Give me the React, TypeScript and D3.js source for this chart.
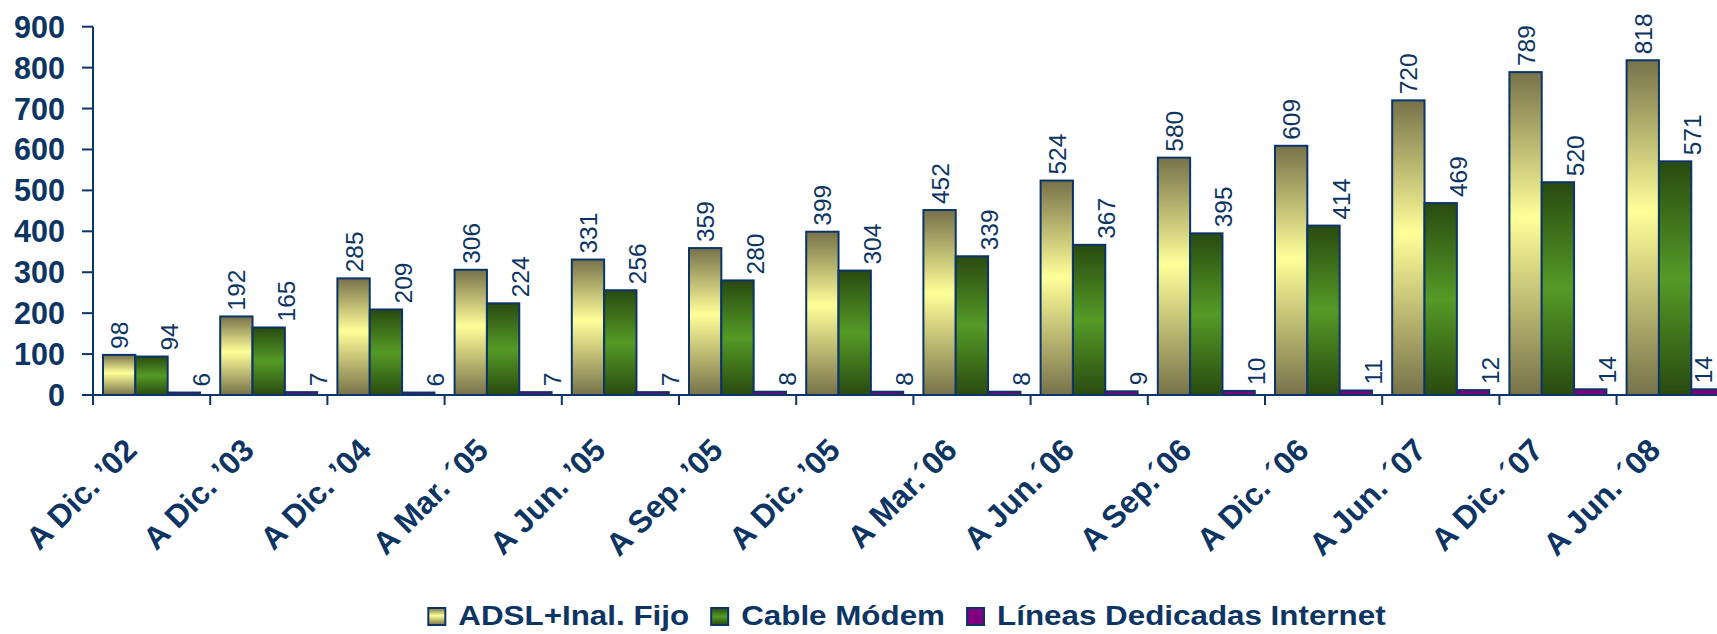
import React from 'react';
import * as d3 from 'd3';

const categories = [
  "A Dic. ’02", "A Dic. ’03", "A Dic. ’04", "A Mar. ´05", "A Jun. ’05", "A Sep. ’05", "A Dic. ’05",
  "A Mar.´06", "A Jun.´06", "A Sep.´06", "A Dic. ´06", "A Jun. ´07", "A Dic. ´07", "A Jun. ´08",
];
const adsl = [98, 192, 285, 306, 331, 359, 399, 452, 524, 580, 609, 720, 789, 818];
const cable = [94, 165, 209, 224, 256, 280, 304, 339, 367, 395, 414, 469, 520, 571];
const dedicadas = [6, 7, 6, 7, 7, 8, 8, 8, 9, 10, 11, 12, 14, 14];
const seriesNames = ["ADSL+Inal. Fijo", "Cable Módem", "Líneas Dedicadas Internet"];
const yTicks = [0, 100, 200, 300, 400, 500, 600, 700, 800, 900];

const W = 1717;
const H = 634;
const NAVY = '#0b3468';
const TEXT = '#0d3563';
const FONT = '"Liberation Sans", Arial, sans-serif';

const seriesData = [adsl, cable, dedicadas];
const fills = ['url(#gAdsl)', 'url(#gCable)', '#800080'];
const labelDx = [9, 26, 26];

function measure(text: string, font: string): number {
  if (typeof document === 'undefined') return text.length * 15;
  const c = document.createElement('canvas');
  const ctx = c.getContext('2d');
  if (!ctx) return text.length * 15;
  ctx.font = font;
  return ctx.measureText(text).width;
}

export default function App() {
  const x0Start = 93;
  const step = 117.2;
  const y = d3.scaleLinear().domain([0, 900]).range([395, 26.7]);
  const x0 = d3.scaleBand<string>().domain(categories).range([x0Start, x0Start + step * categories.length]).padding(0);
  const x1 = d3.scaleBand<string>().domain(seriesNames).range([10, 107]).padding(0);
  const bw = x1.bandwidth();

  // legend layout
  const legFont = `bold 28px ${FONT}`;
  const sx = 1.12;
  const sq = 17;
  const gapSq = 13;
  const gapItem = 22;
  const widths = seriesNames.map((s) => measure(s, legFont) * sx);
  const total = widths.reduce((a, w) => a + sq + gapSq + w, 0) + gapItem * (seriesNames.length - 1);
  let lx = 907 - total / 2;
  const legendItems = seriesNames.map((s, i) => {
    const item = { name: s, x: lx, i };
    lx += sq + gapSq + widths[i] + gapItem;
    return item;
  });

  return (
    <svg width={W} height={H} style={{ position: 'absolute', left: 0, top: 0, background: '#fff' }}>
      <defs>
        <linearGradient id="gAdsl" x1="0" y1="0" x2="0" y2="1">
          <stop offset="0" stopColor="#77724a" />
          <stop offset="0.45" stopColor="#ffff99" />
          <stop offset="1" stopColor="#77724a" />
        </linearGradient>
        <linearGradient id="gCable" x1="0" y1="0" x2="0" y2="1">
          <stop offset="0" stopColor="#294a10" />
          <stop offset="0.5" stopColor="#559a26" />
          <stop offset="1" stopColor="#294a10" />
        </linearGradient>
      </defs>

      {/* bars */}
      {categories.map((c, ci) => (
        <g key={c} transform={`translate(${x0(c)},0)`}>
          {seriesNames.map((s, si) => {
            const v = seriesData[si][ci];
            const bx = x1(s) as number;
            return (
              <rect key={s} x={bx} y={y(v)} width={bw} height={y(0) - y(v)}
                fill={fills[si]} stroke={NAVY} strokeWidth={2} />
            );
          })}
        </g>
      ))}

      {/* axes */}
      <line x1={x0Start} x2={x0Start} y1={y(900)} y2={405} stroke={NAVY} strokeWidth={2} />
      <line x1={82} x2={W} y1={y(0)} y2={y(0)} stroke={NAVY} strokeWidth={2} />
      {yTicks.map((t) => (
        <g key={t}>
          <line x1={82} x2={x0Start} y1={y(t)} y2={y(t)} stroke={NAVY} strokeWidth={2} />
          <text x={65} y={y(t) + 11} textAnchor="end" fontFamily={FONT} fontWeight="bold" fontSize={30.5} fill={TEXT}>{t}</text>
        </g>
      ))}
      {categories.map((c) => (
        <line key={c} x1={(x0(c) as number) + step} x2={(x0(c) as number) + step} y1={y(0)} y2={405} stroke={NAVY} strokeWidth={2} />
      ))}

      {/* x labels */}
      {categories.map((c) => {
        const cx = (x0(c) as number) + step / 2 - 13;
        return (
          <text key={c} transform={`translate(${cx},452) rotate(-45)`} textAnchor="end"
            fontFamily={FONT} fontWeight="bold" fontSize={31.5} fill={TEXT}>{c}</text>
        );
      })}

      {/* data labels */}
      {categories.map((c, ci) => (
        <g key={c}>
          {seriesNames.map((s, si) => {
            const v = seriesData[si][ci];
            const raw = (x0(c) as number) + (x1(s) as number) + bw / 2 + labelDx[si];
            const bx = Math.min(raw, W - 5);
            const by = y(v) - 6;
            return (
              <text key={s} transform={`translate(${bx},${by}) rotate(-90)`} textAnchor="start"
                fontFamily={FONT} fontSize={24.5} fill={TEXT}>{v}</text>
            );
          })}
        </g>
      ))}

      {/* legend */}
      {legendItems.map((it) => (
        <g key={it.name}>
          <rect x={it.x} y={608} width={sq} height={sq} fill={fills[it.i]} stroke={NAVY} strokeWidth={2} />
          <text transform={`translate(${it.x + sq + gapSq},625) scale(${sx},1)`} fontFamily={FONT}
            fontWeight="bold" fontSize={28} fill={TEXT}>{it.name}</text>
        </g>
      ))}
    </svg>
  );
}
